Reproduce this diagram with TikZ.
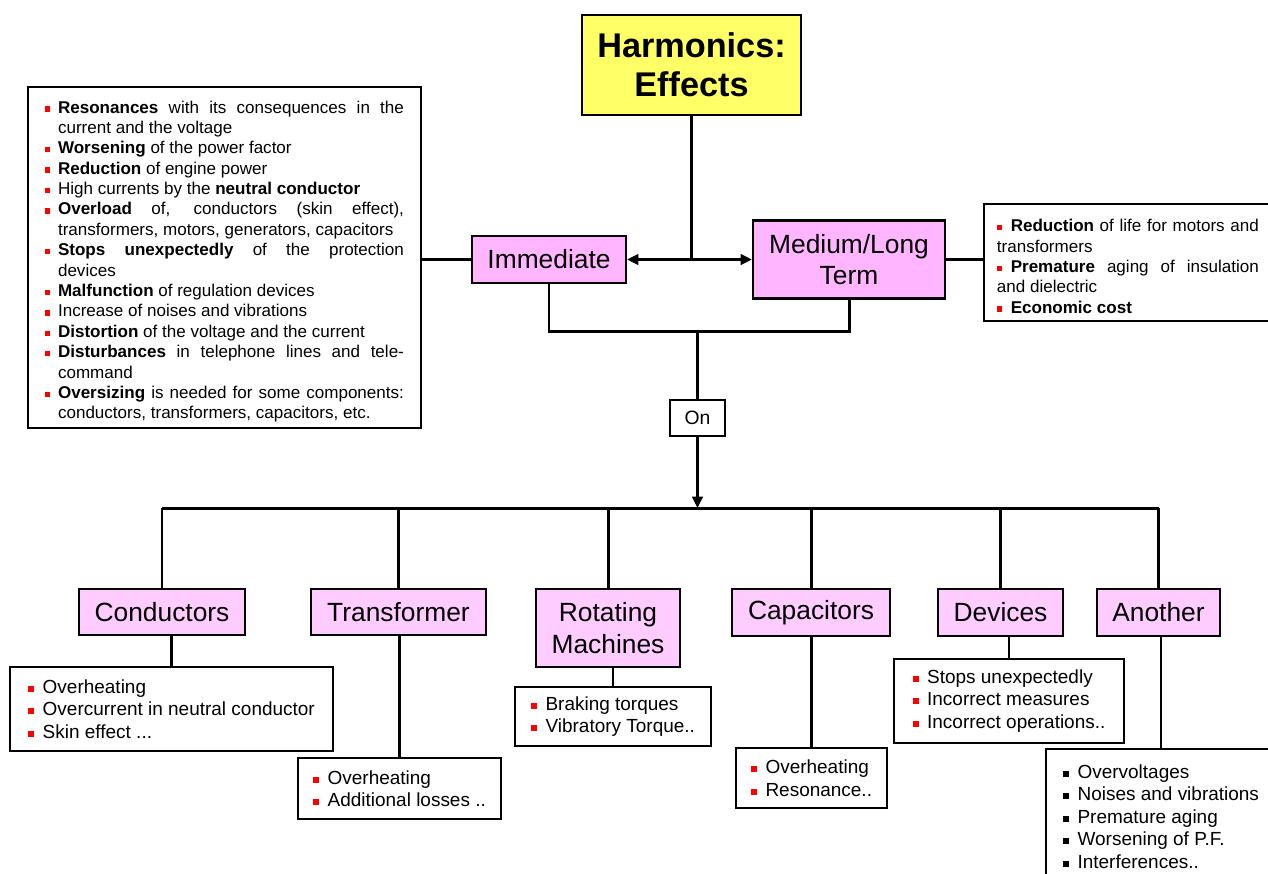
\documentclass[tikz,border=0pt]{standalone}
\usepackage{fontspec}
\setmainfont{Liberation Sans}
\usetikzlibrary{arrows.meta}
\definecolor{titleyellow}{RGB}{255,255,102}
\definecolor{timepink}{RGB}{255,182,255}
\definecolor{catpink}{RGB}{255,204,255}
\newcommand{\rbul}{\textcolor{red}{\rule[0.15ex]{0.6ex}{0.6ex}}}
\newcommand{\kbul}{\rule[0.15ex]{0.6ex}{0.6ex}}
\newcommand{\hitem}{\par\noindent\hangindent=7.4pt\hangafter=1\makebox[7.4pt][l]{\rbul}}
\newcommand{\ritem}{\par\noindent\makebox[7.9pt][l]{\rbul}}
\newcommand{\ditem}{\rbul\hspace{0.45em}}
\newcommand{\kitem}{\kbul\hspace{0.45em}}
\newcommand{\nohyph}{\hyphenpenalty=10000\relax\tolerance=10000\relax}
\begin{document}
\begin{tikzpicture}[%
        x=0.02cm, y=-0.02cm,
        mybox/.style={draw, line width=1.2pt, inner sep=0pt, align=center},
        mytitle/.style={mybox, fill=titleyellow, font=\fontsize{19.5}{22}\selectfont\bfseries},
        mytime/.style={mybox, fill=timepink, font=\fontsize{15}{18}\selectfont},
        mycat/.style={mybox, fill=catpink, font=\fontsize{15}{18}\selectfont},
        mylist/.style={draw, line width=1pt, fill=white, align=left, inner sep=0pt, font=\fontsize{10.8}{12.8}\selectfont},
        myeffects/.style={draw, line width=1pt, fill=white, align=justify, inner ysep=0pt,
            font=\fontsize{9.7}{11.6}\selectfont\nohyph},
        myline/.style={line width=1.7pt},
        mythin/.style={line width=1.4pt},
        myarrow/.style={myline, -{Triangle[length=6.5pt, width=6pt]}}
    ]
    \useasboundingbox (0,0) rectangle (1268,873);
    \clip (0,0) rectangle (1268,873);

    \node[mytitle, minimum width=4.38cm, minimum height=2cm] (title) at (691.5,65) {Harmonics:\\Effects};
    \node[mytime, minimum width=3.08cm, minimum height=0.94cm] (imm) at (549,259.5) {Immediate};
    \node[mytime, minimum width=3.84cm, minimum height=1.56cm] (mlt) at (849,259.5) {Medium/Long\\Term};

    \node[myeffects, text width=7.18cm, inner xsep=0.34cm, minimum height=6.82cm] (effl) at (224.5,257.5) {%
        \hitem\textbf{Resonances} with its consequences in the\linebreak current and the voltage
        \hitem\textbf{Worsening} of the power factor
        \hitem\textbf{Reduction} of engine power
        \hitem High currents by the \textbf{neutral conductor}
        \hitem\textbf{Overload} of, conductors (skin effect),\linebreak transformers, motors, generators, capacitors
        \hitem\textbf{Stops unexpectedly} of the protection\linebreak devices
        \hitem\textbf{Malfunction} of regulation devices
        \hitem Increase of noises and vibrations
        \hitem\textbf{Distortion} of the voltage and the current
        \hitem\textbf{Disturbances} in telephone lines and tele-\linebreak command
        \hitem\textbf{Oversizing} is needed for some components:\linebreak conductors, transformers, capacitors, etc.\par};
    \node[myeffects, text width=5.24cm, inner xsep=0.26cm, minimum height=2.34cm, anchor=north west] (effr) at (983,203) {%
        \ritem\textbf{Reduction} of life for motors and\linebreak transformers
        \ritem\textbf{Premature} aging of insulation\linebreak and dielectric
        \ritem\textbf{Economic cost}\par};

    \coordinate (split) at (title.south |- imm.east);
    \draw[myline] (title.south) -- (split);
    \draw[myarrow] (split) -- (imm.east);
    \draw[myarrow] (split) -- (mlt.west);
    \draw[myline] (imm.west) -- (imm.west -| effl.east);
    \draw[myline] (mlt.east) -- (mlt.east -| effr.west);

    \coordinate (merge) at (697.5,331);
    \draw[myline] (imm.south) |- (merge) -| (mlt.south);
    \node[mybox, line width=1pt, fill=white, minimum width=1.1cm, minimum height=0.72cm, font=\fontsize{11}{13}\selectfont] (on) at (697.5,418) {On};
    \draw[myline] (merge) -- (on.north);
    \coordinate (bus) at (697.5,508);
    \draw[myarrow] (on.south) -- (bus);

    % kinds of equipment
    \node[mycat, minimum width=3.32cm, minimum height=0.92cm] (cond) at (162,612) {Conductors};
    \node[mycat, minimum width=3.5cm, minimum height=0.92cm] (trans) at (398.5,612) {Transformer};
    \node[mycat, minimum width=2.88cm, minimum height=1.56cm] (rot) at (608,628) {Rotating\\Machines};
    \node[mycat, minimum width=3.16cm, minimum height=0.94cm] (cap) at (811,612.5) {Capacitors};
    \node[mycat, minimum width=2.5cm, minimum height=0.94cm] (dev) at (1000.5,612.5) {Devices};
    \node[mycat, minimum width=2.46cm, minimum height=0.94cm] (anoth) at (1158.5,612.5) {Another};

    \draw[myline] (cond.north |- bus) -- (anoth.north |- bus);
    \foreach \n in {cond,trans,rot,cap,dev,anoth}
        \draw[myline] (\n.north |- bus) -- (\n.north);

    \node[mylist, minimum width=6.46cm, minimum height=1.68cm] (cond-d) at (171.5,709) {%
        \ditem Overheating\\\ditem Overcurrent in neutral conductor\\\ditem Skin effect ...};
    \node[mylist, minimum width=4.06cm, minimum height=1.22cm] (trans-d) at (399.5,788.5) {%
        \ditem Overheating\\\ditem Additional losses ..};
    \node[mylist, minimum width=3.92cm, minimum height=1.18cm] (rot-d) at (613,716.5) {%
        \ditem Braking torques\\\ditem Vibratory Torque..};
    \node[mylist, minimum width=3.02cm, minimum height=1.2cm] (cap-d) at (811.5,778) {%
        \ditem Overheating\\\ditem Resonance..};
    \node[mylist, minimum width=4.6cm, minimum height=1.68cm] (dev-d) at (1009,701) {%
        \ditem Stops unexpectedly\\\ditem Incorrect measures\\\ditem Incorrect operations..};
    \node[mylist, minimum width=4.6cm, minimum height=2.7cm, anchor=north] (anoth-d) at (1161,748) {%
        \kitem Overvoltages\\\kitem Noises and vibrations\\\kitem Premature aging\\\kitem Worsening of P.F.\\\kitem Interferences..};

    \foreach \n in {cond,trans,rot,cap,dev,anoth}
        \draw[mythin] (\n-d.north) -- (\n-d.north |- \n.south);
\end{tikzpicture}
\end{document}
